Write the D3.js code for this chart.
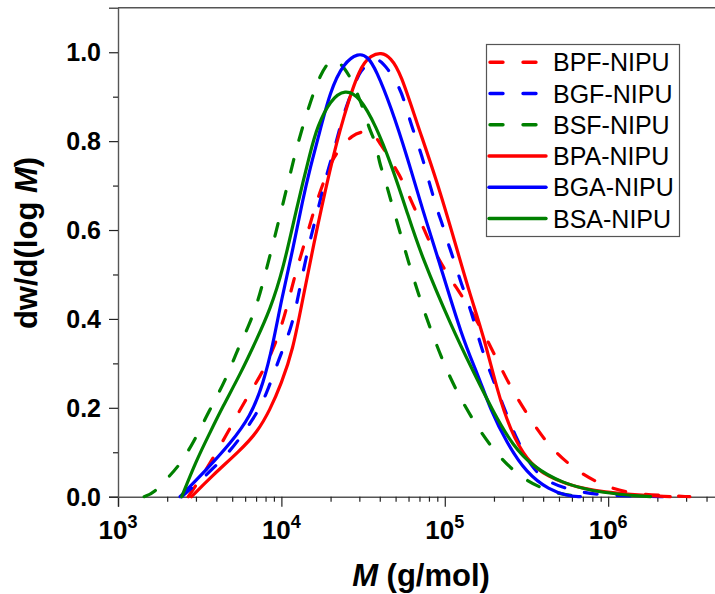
<!DOCTYPE html>
<html>
<head>
<meta charset="utf-8">
<script src="https://cdn.jsdelivr.net/npm/d3@7"></script>
<style>
  body { margin: 0; background: #fff; }
  text { font-family: "Liberation Sans", Arial, sans-serif; }
</style>
</head>
<body>
<div id="chart-area"></div>
<script>
var width = 715,
    height = 594;

// series data: log10(M) and dw/d(log M)
var bpfLogM = [3.43, 3.54, 3.67, 3.78, 3.87, 3.95, 4.02, 4.08, 4.13, 4.20, 4.24, 4.31, 4.34, 4.43, 4.53, 4.57, 4.61, 4.65, 4.71, 4.75, 4.80, 4.83, 4.88, 4.91, 5.01, 5.11, 5.23, 5.32, 5.40, 5.50, 5.62, 5.77, 5.93, 6.11, 6.32, 6.50];
var bpfW    = [0, 0.060, 0.143, 0.218, 0.270, 0.330, 0.405, 0.495, 0.555, 0.645, 0.690, 0.758, 0.773, 0.816, 0.824, 0.815, 0.791, 0.769, 0.731, 0.705, 0.660, 0.638, 0.596, 0.570, 0.503, 0.450, 0.375, 0.308, 0.248, 0.188, 0.121, 0.068, 0.031, 0.008, 0.003, 0];

var bgfLogM = [3.39, 3.50, 3.69, 3.83, 3.90, 3.99, 4.06, 4.095, 4.135, 4.175, 4.22, 4.28, 4.33, 4.38, 4.46, 4.48, 4.56, 4.60, 4.65, 4.72, 4.75, 4.78, 4.81, 4.84, 4.87, 4.90, 4.93, 4.96, 4.99, 5.02, 5.04, 5.10, 5.17, 5.22, 5.28, 5.36, 5.44, 5.54, 5.64, 5.80, 6.01, 6.38];
var bgfW    = [0, 0.035, 0.101, 0.176, 0.221, 0.315, 0.379, 0.436, 0.510, 0.577, 0.640, 0.730, 0.788, 0.863, 0.938, 0.956, 0.987, 0.983, 0.964, 0.923, 0.893, 0.855, 0.821, 0.788, 0.754, 0.713, 0.675, 0.638, 0.608, 0.570, 0.550, 0.480, 0.409, 0.338, 0.278, 0.203, 0.128, 0.060, 0.031, 0.011, 0.002, 0];

var bsfLogM = [3.16, 3.22, 3.31, 3.37, 3.46, 3.56, 3.66, 3.73, 3.80, 3.86, 3.91, 3.96, 4.01, 4.06, 4.10, 4.17, 4.24, 4.30, 4.33, 4.39, 4.44, 4.48, 4.51, 4.54, 4.58, 4.60, 4.63, 4.68, 4.74, 4.77, 4.86, 4.93, 5.01, 5.10, 5.21, 5.33, 5.48, 5.66, 5.83];
var bsfW    = [0, 0.008, 0.045, 0.068, 0.120, 0.195, 0.263, 0.330, 0.383, 0.443, 0.514, 0.585, 0.660, 0.735, 0.795, 0.881, 0.953, 0.983, 0.985, 0.964, 0.930, 0.893, 0.863, 0.825, 0.795, 0.750, 0.720, 0.653, 0.578, 0.537, 0.431, 0.360, 0.285, 0.218, 0.150, 0.090, 0.038, 0.008, 0];

var bpaLogM = [3.45, 3.57, 3.75, 3.85, 3.93, 4.00, 4.07, 4.13, 4.19, 4.30, 4.38, 4.48, 4.55, 4.61, 4.67, 4.73, 4.83, 4.95, 5.07, 5.15, 5.24, 5.32, 5.40, 5.50, 5.62, 5.85, 6.15, 6.38];
var bpaW    = [0, 0.045, 0.105, 0.144, 0.195, 0.255, 0.329, 0.443, 0.555, 0.743, 0.855, 0.968, 0.993, 1.0, 0.988, 0.953, 0.840, 0.713, 0.563, 0.460, 0.359, 0.240, 0.150, 0.083, 0.045, 0.015, 0.004, 0];

var bgaLogM = [3.38, 3.54, 3.69, 3.81, 3.89, 3.95, 4.00, 4.07, 4.13, 4.18, 4.22, 4.30, 4.38, 4.47, 4.53, 4.58, 4.67, 4.77, 4.87, 4.95, 5.11, 5.20, 5.28, 5.38, 5.50, 5.64, 5.75, 5.83];
var bgaW    = [0, 0.060, 0.121, 0.180, 0.255, 0.345, 0.443, 0.555, 0.668, 0.745, 0.800, 0.915, 0.975, 0.999, 0.990, 0.960, 0.878, 0.765, 0.638, 0.548, 0.353, 0.278, 0.195, 0.121, 0.053, 0.015, 0.002, 0];

var bsaLogM = [3.39, 3.48, 3.56, 3.64, 3.75, 3.85, 3.93, 4.01, 4.09, 4.18, 4.22, 4.30, 4.39, 4.48, 4.58, 4.67, 4.77, 4.85, 5.05, 5.17, 5.30, 5.42, 5.54, 5.71, 5.95, 6.26];
var bsaW    = [0, 0.082, 0.142, 0.202, 0.277, 0.355, 0.420, 0.510, 0.645, 0.780, 0.833, 0.893, 0.917, 0.900, 0.833, 0.750, 0.640, 0.548, 0.375, 0.285, 0.188, 0.113, 0.068, 0.031, 0.008, 0];

var seriesNames = ["BPF-NIPU", "BGF-NIPU", "BSF-NIPU", "BPA-NIPU", "BGA-NIPU", "BSA-NIPU"];
var seriesColors = ["#ff0000", "#0000ff", "#008000", "#ff0000", "#0000ff", "#008000"];
var seriesDashed = [true, true, true, false, false, false];
var seriesLogM = [bpfLogM, bgfLogM, bsfLogM, bpaLogM, bgaLogM, bsaLogM];
var seriesW = [bpfW, bgfW, bsfW, bpaW, bgaW, bsaW];

var xDecades = [3, 4, 5, 6];
var yMajor = [0, 0.2, 0.4, 0.6, 0.8, 1.0];
var yMinor = [0.1, 0.3, 0.5, 0.7, 0.9];

var plotLeft = 118, plotRight = 716, plotTop = 7.8, plotBottom = 496.7;
var axisColor = "#555";

var svg = d3.select("#chart-area").append("svg")
    .attr("width", width)
    .attr("height", height);

var x = d3.scaleLog()
    .domain([1e3, Math.pow(10, 6.66)])
    .range([plotLeft, plotRight]);

var y = d3.scaleLinear()
    .domain([0, 1.1])
    .range([plotBottom, plotTop]);

// minor ticks on the log axis
var xMinor = [];
xDecades.forEach(function(k) {
    for (var m = 2; m <= 9; m++) {
        if (Math.pow(10, k) * m < x.domain()[1]) xMinor.push(Math.pow(10, k) * m);
    }
});

// bottom axis
var gx = svg.append("g").attr("transform", "translate(0," + plotBottom + ")");
gx.call(d3.axisBottom(x).tickValues(xDecades.map(function(k) { return Math.pow(10, k); }))
    .tickSize(10).tickFormat(""));
gx.append("g").call(d3.axisBottom(x).tickValues(xMinor).tickSize(5).tickFormat(""));
gx.selectAll(".domain").attr("stroke", axisColor).attr("stroke-width", 1.4);
gx.selectAll("line").attr("stroke", "#222").attr("stroke-width", 1.2);
gx.selectAll("g g .domain").remove();

var xl = svg.selectAll(".xlabel")
    .data(xDecades)
    .enter().append("text")
    .attr("class", "xlabel")
    .attr("x", function(d) { return x(Math.pow(10, d)); })
    .attr("y", plotBottom + 42)
    .attr("text-anchor", "middle")
    .style("font-size", "26px")
    .style("font-weight", "bold");
xl.append("tspan").text("10");
xl.append("tspan").attr("dy", -11).style("font-size", "18px").text(function(d) { return d; });

// left axis
var gy = svg.append("g").attr("transform", "translate(" + plotLeft + ",0)");
gy.call(d3.axisLeft(y).tickValues(yMajor).tickSize(9).tickFormat(""));
gy.append("g").call(d3.axisLeft(y).tickValues(yMinor).tickSize(5).tickFormat(""));
gy.selectAll(".domain").attr("stroke", axisColor).attr("stroke-width", 1.4);
gy.selectAll("line").attr("stroke", "#222").attr("stroke-width", 1.2);
gy.selectAll("g g .domain").remove();

svg.selectAll(".ylabel")
    .data(yMajor)
    .enter().append("text")
    .attr("class", "ylabel")
    .attr("x", 101)
    .attr("y", function(d) { return y(d); })
    .attr("dy", "0.36em")
    .attr("text-anchor", "end")
    .style("font-size", "25px")
    .style("font-weight", "bold")
    .text(function(d) { return d.toFixed(1); });

// top frame line
svg.append("line")
    .attr("x1", plotLeft).attr("x2", width)
    .attr("y1", plotTop).attr("y2", plotTop)
    .attr("stroke", axisColor).attr("stroke-width", 1.4);

// curves (basis spline smooths out reading noise)
var line = d3.line()
    .x(function(d) { return x(Math.pow(10, d[0])); })
    .y(function(d) { return y(d[1]); })
    .curve(d3.curveBasis);

seriesNames.forEach(function(name, i) {
    var pts = seriesLogM[i].map(function(v, j) { return [v, seriesW[i][j]]; });
    svg.append("path")
        .datum(pts)
        .attr("d", line)
        .attr("fill", "none")
        .attr("stroke", seriesColors[i])
        .attr("stroke-width", 3.2)
        .attr("stroke-linecap", "round")
        .attr("stroke-dasharray", seriesDashed[i] ? "13,20" : null);
});

// legend
var lg = svg.append("g");
lg.append("rect")
    .attr("x", 486.5).attr("y", 44.5)
    .attr("width", 193).attr("height", 192)
    .attr("fill", "#fff")
    .attr("stroke", axisColor)
    .attr("stroke-width", 1.2);

var items = lg.selectAll(".item")
    .data(seriesNames)
    .enter().append("g")
    .attr("class", "item")
    .attr("transform", function(d, i) { return "translate(0," + (62.3 + i * 31.25) + ")"; });

items.append("line")
    .attr("x1", function(d, i) { return seriesDashed[i] ? 490 : 489; })
    .attr("x2", 546)
    .attr("stroke", function(d, i) { return seriesColors[i]; })
    .attr("stroke-width", 3.4)
    .attr("stroke-linecap", "round")
    .attr("stroke-dasharray", function(d, i) { return seriesDashed[i] ? "13,20" : null; });

items.append("text")
    .attr("x", 553)
    .attr("dy", "0.36em")
    .style("font-size", "25px")
    .text(function(d) { return d; });

// axis titles
var xt = svg.append("text")
    .attr("x", 421)
    .attr("y", 586)
    .attr("text-anchor", "middle")
    .style("font-size", "31px")
    .style("font-weight", "bold");
xt.append("tspan").style("font-style", "italic").text("M");
xt.append("tspan").text(" (g/mol)");

var yt = svg.append("text")
    .attr("transform", "translate(37,243) rotate(-90)")
    .attr("text-anchor", "middle")
    .style("font-size", "31px")
    .style("font-weight", "bold");
yt.append("tspan").text("dw/d(log ");
yt.append("tspan").style("font-style", "italic").text("M");
yt.append("tspan").text(")");
</script>
</body>
</html>
